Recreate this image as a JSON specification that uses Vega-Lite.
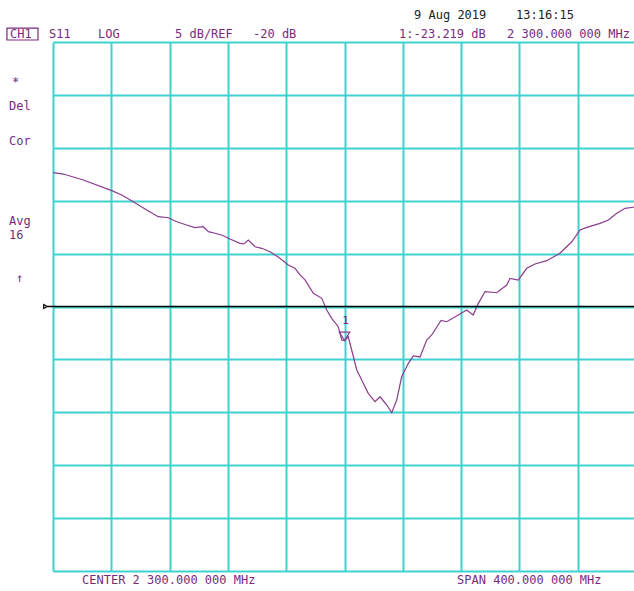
{
  "$schema": "https://vega.github.io/schema/vega-lite/v6.json",
  "width": 581,
  "height": 529,
  "autosize": {"type": "none"},
  "padding": {"left": 53, "top": 42, "right": 0, "bottom": 20},
  "background": "white",
  "config": {"view": {"stroke": null}},
  "datasets": {
    "trace": [
      {"f": 2100.0, "db": -7.35}, {"f": 2107.1, "db": -7.48}, {"f": 2120.8, "db": -8.04},
      {"f": 2140.3, "db": -9.05}, {"f": 2147.1, "db": -9.46}, {"f": 2155.1, "db": -10.09},
      {"f": 2164.3, "db": -10.88}, {"f": 2172.2, "db": -11.51}, {"f": 2179.1, "db": -11.61},
      {"f": 2184.9, "db": -11.99}, {"f": 2191.7, "db": -12.30}, {"f": 2197.4, "db": -12.55},
      {"f": 2203.1, "db": -12.46}, {"f": 2206.6, "db": -12.93}, {"f": 2211.1, "db": -13.08},
      {"f": 2215.7, "db": -13.24}, {"f": 2221.4, "db": -13.62}, {"f": 2228.3, "db": -14.03},
      {"f": 2231.0, "db": -14.09}, {"f": 2234.0, "db": -13.72}, {"f": 2238.6, "db": -14.35},
      {"f": 2243.2, "db": -14.50}, {"f": 2248.9, "db": -14.82}, {"f": 2255.7, "db": -15.44},
      {"f": 2261.4, "db": -16.08}, {"f": 2266.0, "db": -16.39}, {"f": 2269.5, "db": -17.02},
      {"f": 2272.9, "db": -17.49}, {"f": 2278.6, "db": -18.75}, {"f": 2284.4, "db": -19.23},
      {"f": 2287.8, "db": -20.33}, {"f": 2291.2, "db": -21.12}, {"f": 2295.7, "db": -21.91},
      {"f": 2298.1, "db": -23.17}, {"f": 2300.0, "db": -23.22}, {"f": 2302.6, "db": -22.86},
      {"f": 2304.9, "db": -24.11}, {"f": 2308.4, "db": -26.00}, {"f": 2311.8, "db": -26.95},
      {"f": 2316.3, "db": -28.21}, {"f": 2320.9, "db": -29.00}, {"f": 2324.4, "db": -28.53},
      {"f": 2329.0, "db": -29.31}, {"f": 2332.4, "db": -30.04}, {"f": 2335.8, "db": -28.84},
      {"f": 2339.2, "db": -26.64}, {"f": 2343.8, "db": -25.37}, {"f": 2347.2, "db": -24.68},
      {"f": 2351.8, "db": -24.77}, {"f": 2356.4, "db": -23.17}, {"f": 2359.8, "db": -22.69},
      {"f": 2366.2, "db": -21.32}, {"f": 2370.1, "db": -21.44}, {"f": 2378.1, "db": -20.80},
      {"f": 2383.8, "db": -20.33}, {"f": 2388.3, "db": -20.80}, {"f": 2391.8, "db": -19.70},
      {"f": 2396.4, "db": -18.60}, {"f": 2404.4, "db": -18.70}, {"f": 2411.3, "db": -17.97},
      {"f": 2413.5, "db": -17.34}, {"f": 2419.2, "db": -17.50}, {"f": 2425.0, "db": -16.39},
      {"f": 2430.7, "db": -15.98}, {"f": 2438.7, "db": -15.67}, {"f": 2447.8, "db": -14.97},
      {"f": 2455.9, "db": -13.88}, {"f": 2461.6, "db": -12.77}, {"f": 2466.2, "db": -12.52},
      {"f": 2475.3, "db": -12.14}, {"f": 2481.0, "db": -11.83}, {"f": 2486.8, "db": -11.19},
      {"f": 2492.5, "db": -10.72}, {"f": 2498.1, "db": -10.62}, {"f": 2500.0, "db": -10.60}
    ],
    "labels": [
      {"f": 2070.5, "db": 5.80, "t": "CH1"},
      {"f": 2097.3, "db": 5.80, "t": "S11"},
      {"f": 2130.9, "db": 5.80, "t": "LOG"},
      {"f": 2183.7, "db": 5.80, "t": "5 dB/REF"},
      {"f": 2237.2, "db": 5.80, "t": "-20 dB"},
      {"f": 2337.4, "db": 5.80, "t": "1:-23.219 dB"},
      {"f": 2411.5, "db": 5.80, "t": "2 300.000 000 MHz"},
      {"f": 2071.9, "db": 1.22, "t": "*"},
      {"f": 2069.8, "db": -1.05, "t": "Del"},
      {"f": 2069.8, "db": -4.36, "t": "Cor"},
      {"f": 2069.8, "db": -11.92, "t": "Avg"},
      {"f": 2069.8, "db": -13.24, "t": "16"},
      {"f": 2074.6, "db": -17.31, "t": "↑"},
      {"f": 2119.9, "db": -45.85, "t": "CENTER 2 300.000 000 MHz"},
      {"f": 2377.2, "db": -45.85, "t": "SPAN 400.000 000 MHz"}
    ],
    "date": [
      {"f": 2347.7, "db": 7.55, "t": "9 Aug 2019"},
      {"f": 2417.7, "db": 7.55, "t": "13:16:15"}
    ],
    "box": [{"f": 2068.4, "f2": 2089.7, "db": 6.32, "db2": 5.19}],
    "ref": [{"f": 2096.0, "f2": 2498.6, "db": -20}],
    "marker": [{"f": 2300.0, "db": -23.22, "t": "1"}]
  },
  "layer": [
    {
      "data": {"name": "trace"},
      "mark": {"type": "line", "color": "#8a3c8e", "strokeWidth": 1.2, "clip": true},
      "encoding": {
        "x": {"field": "f", "type": "quantitative", "scale": {"domain": [2100, 2498.6], "nice": false, "zero": false},
          "axis": {"values": [2100, 2140, 2180, 2220, 2260, 2300, 2340, 2380, 2420, 2460], "grid": true, "gridColor": "#3fd2d2", "gridWidth": 2, "gridOpacity": 1, "labels": false, "ticks": false, "domain": false, "title": null}},
        "y": {"field": "db", "type": "quantitative", "scale": {"domain": [-45, 5], "nice": false, "zero": false},
          "axis": {"values": [-45, -40, -35, -30, -25, -20, -15, -10, -5, 0, 5], "grid": true, "gridColor": "#3fd2d2", "gridWidth": 2, "gridOpacity": 1, "labels": false, "ticks": false, "domain": false, "title": null}}
      }
    },
    {
      "data": {"name": "ref"},
      "mark": {"type": "rule", "color": "#000000", "strokeWidth": 1.3, "clip": false},
      "encoding": {
        "x": {"field": "f", "type": "quantitative"},
        "x2": {"field": "f2"},
        "y": {"field": "db", "type": "quantitative"}
      }
    },
    {
      "data": {"name": "ref"},
      "mark": {"type": "point", "shape": "M-1.4,-0.8L0,0L-1.4,0.8Z", "filled": false, "color": "#000000", "size": 24, "strokeWidth": 1.2, "clip": false, "opacity": 1},
      "encoding": {
        "x": {"field": "f", "type": "quantitative"},
        "y": {"field": "db", "type": "quantitative"}
      }
    },
    {
      "data": {"name": "marker"},
      "mark": {"type": "point", "shape": "M-1,-1.6L1,-1.6L0,0Z", "filled": false, "color": "#8a3c8e", "size": 110, "strokeWidth": 1.2, "opacity": 1},
      "encoding": {
        "x": {"field": "f", "type": "quantitative"},
        "y": {"field": "db", "type": "quantitative"}
      }
    },
    {
      "data": {"name": "marker"},
      "mark": {"type": "text", "color": "#7a2a7e", "font": "DejaVu Sans Mono", "fontSize": 11, "dy": -20, "dx": 1, "align": "center", "baseline": "middle"},
      "encoding": {
        "x": {"field": "f", "type": "quantitative"},
        "y": {"field": "db", "type": "quantitative"},
        "text": {"field": "t"}
      }
    },
    {
      "data": {"name": "box"},
      "mark": {"type": "rect", "filled": false, "stroke": "#7a2a7e", "strokeWidth": 1.2, "clip": false},
      "encoding": {
        "x": {"field": "f", "type": "quantitative"},
        "x2": {"field": "f2"},
        "y": {"field": "db", "type": "quantitative"},
        "y2": {"field": "db2"}
      }
    },
    {
      "data": {"name": "labels"},
      "mark": {"type": "text", "color": "#7a2a7e", "font": "DejaVu Sans Mono", "fontSize": 12, "align": "left", "baseline": "middle", "clip": false},
      "encoding": {
        "x": {"field": "f", "type": "quantitative"},
        "y": {"field": "db", "type": "quantitative"},
        "text": {"field": "t"}
      }
    },
    {
      "data": {"name": "date"},
      "mark": {"type": "text", "color": "#222222", "font": "DejaVu Sans Mono", "fontSize": 12, "align": "left", "baseline": "middle", "clip": false},
      "encoding": {
        "x": {"field": "f", "type": "quantitative"},
        "y": {"field": "db", "type": "quantitative"},
        "text": {"field": "t"}
      }
    }
  ]
}
